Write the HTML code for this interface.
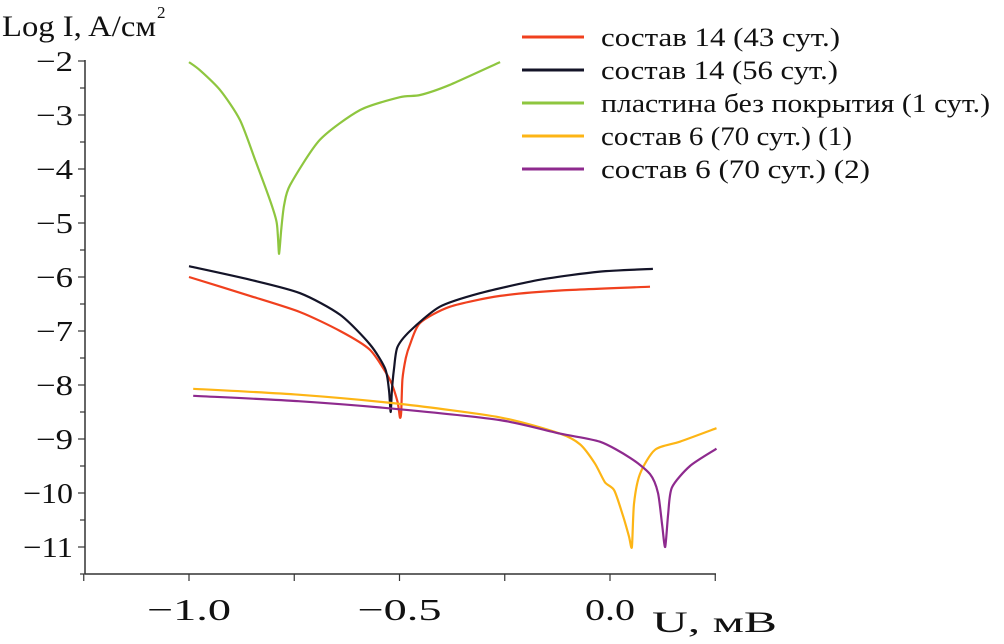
<!DOCTYPE html>
<html><head><meta charset="utf-8"><style>
body{margin:0;background:#fff;}
svg text{font-family:"Liberation Serif",serif;fill:#111;}
</style></head><body>
<svg id="c" width="1004" height="639" xmlns="http://www.w3.org/2000/svg"></svg>
<script>
const yTicks=[-2,-3,-4,-5,-6,-7,-8,-9,-10,-11];
const yTickLabels=["\u22122","\u22123","\u22124","\u22125","\u22126","\u22127","\u22128","\u22129","\u221210","\u221211"];
const xTicks=[-1.0,-0.5,0.0];
const xTickLabels=["\u22121.0","\u22120.5","0.0"];
const seriesNames=["состав 14 (43 сут.)","состав 14 (56 сут.)","пластина без покрытия (1 сут.)","состав 6 (70 сут.) (1)","состав 6 (70 сут.) (2)"];
const redU=[-1.0,-0.855,-0.736,-0.641,-0.570,-0.523,-0.505,-0.499,-0.496,-0.493,-0.485,-0.475,-0.451,-0.380,-0.261,-0.119,0.095];
const redL=[-6.0,-6.35,-6.65,-7.0,-7.35,-7.9,-8.3,-8.6,-8.5,-7.9,-7.5,-7.25,-6.85,-6.55,-6.35,-6.25,-6.18];
const blackU=[-1.0,-0.855,-0.736,-0.641,-0.570,-0.534,-0.525,-0.521,-0.518,-0.513,-0.505,-0.475,-0.404,-0.309,-0.166,-0.024,0.102];
const blackL=[-5.8,-6.05,-6.3,-6.7,-7.25,-7.7,-8.1,-8.5,-8.1,-7.7,-7.3,-7.0,-6.55,-6.3,-6.05,-5.9,-5.85];
const greenU=[-1.0,-0.974,-0.926,-0.879,-0.843,-0.812,-0.793,-0.789,-0.786,-0.781,-0.774,-0.760,-0.689,-0.594,-0.499,-0.451,-0.380,-0.261];
const greenL=[-2.02,-2.17,-2.54,-3.09,-3.83,-4.48,-4.94,-5.22,-5.57,-5.13,-4.67,-4.30,-3.46,-2.91,-2.67,-2.63,-2.44,-2.02];
const orangeU=[-0.99,-0.74,-0.499,-0.261,-0.119,-0.071,-0.036,-0.012,0.010,0.030,0.045,0.052,0.057,0.071,0.107,0.166,0.253];
const orangeL=[-8.07,-8.18,-8.35,-8.6,-8.9,-9.1,-9.45,-9.8,-9.95,-10.4,-10.8,-11.0,-10.2,-9.65,-9.2,-9.05,-8.8];
const purpleU=[-0.99,-0.74,-0.499,-0.261,-0.119,-0.024,0.048,0.095,0.114,0.124,0.131,0.138,0.147,0.190,0.253];
const purpleL=[-8.2,-8.3,-8.45,-8.65,-8.9,-9.05,-9.35,-9.65,-10.0,-10.6,-11.0,-10.4,-9.9,-9.5,-9.18];
const colors=["#f0401e","#141428","#8ec63f","#fdb515","#8e2a8e"];
const NS="http://www.w3.org/2000/svg";
const svg=document.getElementById('c');
const X=u=>610+421*u;
const Y=l=>61+54*(-2-l);
function el(t,a){const e=document.createElementNS(NS,t);for(const k in a)e.setAttribute(k,a[k]);svg.appendChild(e);return e;}
function stretch(t,len){t.setAttribute('textLength',len);t.setAttribute('lengthAdjust','spacingAndGlyphs');}
function smooth(pts){let d='M'+pts[0][0].toFixed(1)+','+pts[0][1].toFixed(1);
 for(let i=0;i<pts.length-1;i++){const p0=pts[Math.max(i-1,0)],p1=pts[i],p2=pts[i+1],p3=pts[Math.min(i+2,pts.length-1)];const k=1/8;
  d+=' C'+(p1[0]+(p2[0]-p0[0])*k).toFixed(1)+','+(p1[1]+(p2[1]-p0[1])*k).toFixed(1)+' '+(p2[0]-(p3[0]-p1[0])*k).toFixed(1)+','+(p2[1]-(p3[1]-p1[1])*k).toFixed(1)+' '+p2[0].toFixed(1)+','+p2[1].toFixed(1);}
 return d;}
let ya=el('line',{x1:85,y1:60,x2:85,y2:574,stroke:'#333','stroke-width':1.5});


let xa=el('line',{x1:85,y1:574,x2:716,y2:574,stroke:'#333','stroke-width':1.5});


for(let v=-2;v>=-11.5;v-=0.5){const y=Y(v);const major=Number.isInteger(v);
 el('line',{x1:major?78:80,y1:y,x2:85,y2:y,stroke:'#333','stroke-width':1.2});}
yTicks.forEach((v,i)=>{const t=el('text',{x:73,y:Y(v)+10,'text-anchor':'end','font-size':29});t.textContent=yTickLabels[i];
 stretch(t,yTickLabels[i].length==2?37:50);
 
 });
for(let u=-1.25;u<=0.26;u+=0.25){el('line',{x1:X(u),y1:574,x2:X(u),y2:581,stroke:'#333','stroke-width':1.2});}
xTicks.forEach((v,i)=>{const t=el('text',{x:X(v),y:620,'text-anchor':'middle','font-size':31});t.textContent=xTickLabels[i];
 stretch(t,xTickLabels[i].length==4?84:50);
 
 });
let yt=el('text',{x:2,y:36,'font-size':30});yt.textContent='Log I, A/см';
stretch(yt,154);


let ys=el('text',{x:157,y:18,'font-size':17});ys.textContent='2';


let xt=el('text',{x:652,y:632,'font-size':30});xt.textContent='U, мВ';
stretch(xt,125);


const data=[[redU,redL],[blackU,blackL],[greenU,greenL],[orangeU,orangeL],[purpleU,purpleL]];
const names=['series-red','series-black','series-green','series-orange','series-purple'];
data.forEach((d,i)=>{const pts=d[0].map((u,j)=>[X(u),Y(d[1][j])]);
 const p=el('path',{d:smooth(pts),fill:'none',stroke:colors[i],'stroke-width':2.2,'stroke-linejoin':'round'});
 
 });
const legW=[239,237,389,251,269];
seriesNames.forEach((n,i)=>{const y=37+33*i;
 const l=el('line',{x1:522,y1:y,x2:584,y2:y,stroke:colors[i],'stroke-width':3});
 
 
 const t=el('text',{x:601,y:y+9,'font-size':26});t.textContent=n;
 stretch(t,legW[i]);
 
 });
</script>
</body></html>
